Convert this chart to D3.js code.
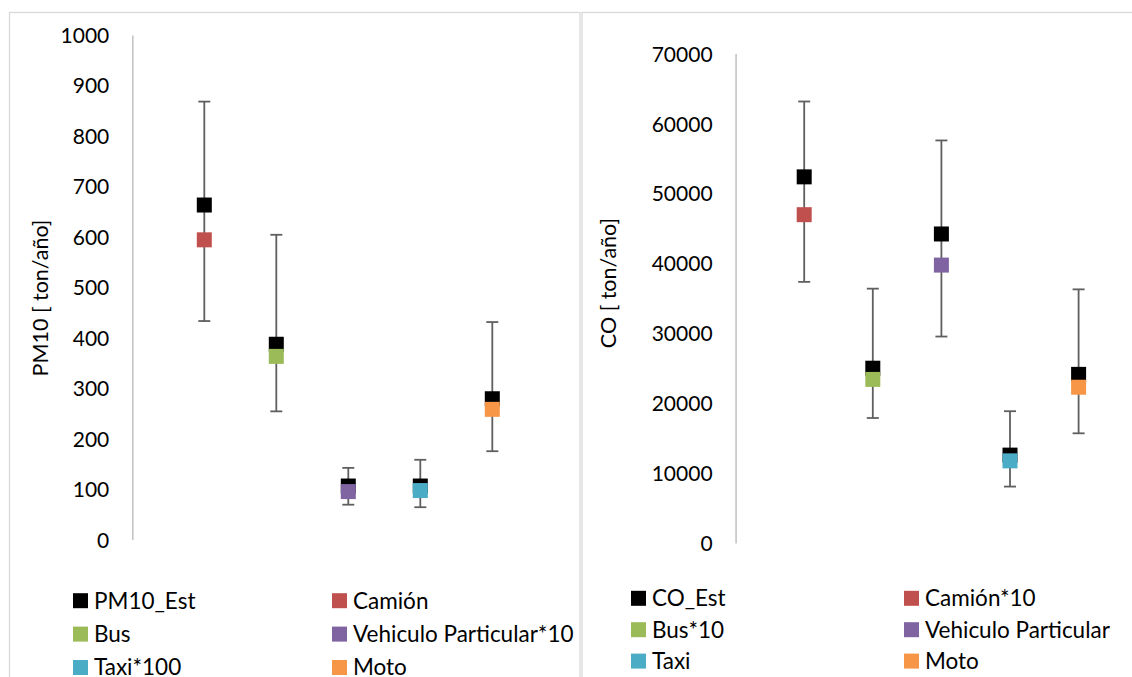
<!DOCTYPE html>
<html>
<head>
<meta charset="utf-8">
<script src="https://cdn.jsdelivr.net/npm/d3@7"></script>
<style>
  html, body { margin: 0; padding: 0; background: #fff; }
  svg { display: block; }
  text { font-family: Lato, "Noto Sans", sans-serif; fill: #000; }
</style>
</head>
<body>
<svg id="chart" width="1132" height="677"></svg>
<script>
// ---------- DATA ----------
const categories = ["Camión", "Bus", "Vehiculo Particular", "Taxi", "Moto"];

// PM10 panel
const pm10Ticks = [0, 100, 200, 300, 400, 500, 600, 700, 800, 900, 1000];
const pm10Est = [663, 387, 106, 106, 279];
const pm10ErrLow = [433, 254, 69, 64, 175];
const pm10ErrHigh = [868, 604, 142, 158, 431];
const pm10SeriesValues = [594, 363, 95, 97, 258];
const pm10SeriesNames = ["Camión", "Bus", "Vehiculo Particular*10", "Taxi*100", "Moto"];
const pm10EstName = "PM10_Est";
const pm10Title = "PM10 [ ton/año]";

// CO panel
const coTicks = [0, 10000, 20000, 30000, 40000, 50000, 60000, 70000];
const coEst = [52370, 25000, 44200, 12570, 24120];
const coErrLow = [37350, 17880, 29530, 8070, 15690];
const coErrHigh = [63150, 36380, 57580, 18850, 36280];
const coSeriesValues = [46960, 23400, 39750, 11750, 22280];
const coSeriesNames = ["Camión*10", "Bus*10", "Vehiculo Particular", "Taxi", "Moto"];
const coEstName = "CO_Est";
const coTitle = "CO [ ton/año]";

const seriesColors = ["#C0504D", "#9BBB59", "#8064A2", "#4BACC6", "#F79646"];
const estColor = "#000000";

// ---------- DRAW ----------
const svg = d3.select("#chart");

// chart frames
svg.append("rect").attr("x", 9.5).attr("y", 12.5).attr("width", 570.5).attr("height", 700)
  .attr("fill", "none").attr("stroke", "#d9d9d9").attr("stroke-width", 1.3);
svg.append("rect").attr("x", 582).attr("y", 12.5).attr("width", 600).attr("height", 700)
  .attr("fill", "none").attr("stroke", "#d9d9d9").attr("stroke-width", 1.3);

function panel(cfg) {
  const g = svg.append("g");
  const x = d3.scaleLinear().domain([0, 6]).range([cfg.x0, cfg.x0 + 6 * cfg.step]);
  const y = d3.scaleLinear().domain([0, cfg.ticks[cfg.ticks.length - 1]]).range([cfg.yBottom, cfg.yTop]);

  // axis
  const ax = g.append("g").attr("transform", `translate(${cfg.x0},0)`)
    .call(d3.axisLeft(y).tickValues(cfg.ticks).tickSize(0).tickSizeOuter(0).tickPadding(23).tickFormat(d3.format("d")));
  ax.select(".domain").attr("stroke", "#c4c4c4").attr("stroke-width", 1.6);
  ax.selectAll(".tick text").attr("font-size", 21).attr("font-family", "Lato, 'Noto Sans', sans-serif")
    .attr("fill", "#000").attr("dy", "0.358em");

  // title
  g.append("text")
    .attr("transform", `translate(${cfg.titleX},${cfg.titleY}) rotate(-90)`)
    .attr("text-anchor", "middle").attr("dy", "0.358em")
    .attr("font-size", 21.5).text(cfg.title);

  const idx = categories.map((c, i) => i);

  // error bars
  const eb = g.append("g").attr("stroke", "#5f5f5f").attr("stroke-width", 1.8);
  eb.selectAll("line.v").data(idx).join("line").attr("class", "v")
    .attr("x1", i => x(i + 1)).attr("x2", i => x(i + 1))
    .attr("y1", i => y(cfg.errLow[i])).attr("y2", i => y(cfg.errHigh[i]));
  eb.selectAll("line.t").data(idx).join("line").attr("class", "t")
    .attr("x1", i => x(i + 1) - 6).attr("x2", i => x(i + 1) + 6)
    .attr("y1", i => y(cfg.errHigh[i])).attr("y2", i => y(cfg.errHigh[i]));
  eb.selectAll("line.b").data(idx).join("line").attr("class", "b")
    .attr("x1", i => x(i + 1) - 6).attr("x2", i => x(i + 1) + 6)
    .attr("y1", i => y(cfg.errLow[i])).attr("y2", i => y(cfg.errLow[i]));

  const ms = 15;
  // estimated series
  g.selectAll("rect.est").data(idx).join("rect").attr("class", "est")
    .attr("x", i => x(i + 1) - ms / 2).attr("y", i => y(cfg.est[i]) - ms / 2)
    .attr("width", ms).attr("height", ms).attr("fill", estColor);
  // source series (one point each)
  g.selectAll("rect.src").data(idx).join("rect").attr("class", "src")
    .attr("x", i => x(i + 1) - ms / 2).attr("y", i => y(cfg.series[i]) - ms / 2)
    .attr("width", ms).attr("height", ms).attr("fill", i => seriesColors[i]);

  // legend
  const items = [{ name: cfg.estName, color: estColor }]
    .concat(cfg.names.map((n, i) => ({ name: n, color: seriesColors[i] })));
  const lg = g.append("g");
  items.forEach((it, k) => {
    const col = k % 2, row = Math.floor(k / 2);
    const lx = cfg.legX[col], ly = cfg.legY0 + row * cfg.legDy;
    lg.append("rect").attr("x", lx).attr("y", ly - 7.5).attr("width", 15).attr("height", 15).attr("fill", it.color);
    lg.append("text").attr("x", lx + 21).attr("y", ly).attr("dy", "0.35em")
      .attr("font-size", 22.5).text(it.name);
  });
}

panel({
  ticks: pm10Ticks, est: pm10Est, errLow: pm10ErrLow, errHigh: pm10ErrHigh,
  series: pm10SeriesValues, names: pm10SeriesNames, estName: pm10EstName, title: pm10Title,
  x0: 132.3, step: 72, yBottom: 539.5, yTop: 35,
  titleX: 40, titleY: 298,
  legX: [73, 332], legY0: 600.7, legDy: 33.4
});

panel({
  ticks: coTicks, est: coEst, errLow: coErrLow, errHigh: coErrHigh,
  series: coSeriesValues, names: coSeriesNames, estName: coEstName, title: coTitle,
  x0: 735.6, step: 68.6, yBottom: 543, yTop: 53.6,
  titleX: 608, titleY: 283,
  legX: [631, 904], legY0: 598.3, legDy: 31.4
});
</script>
</body>
</html>
